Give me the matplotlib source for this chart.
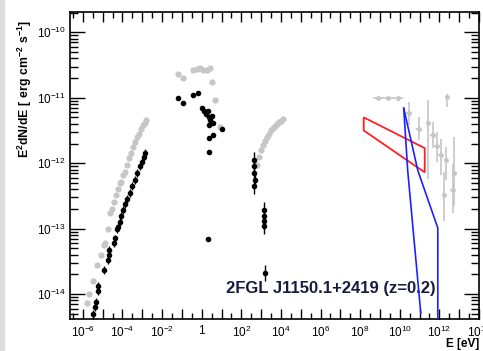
import numpy as np
import matplotlib
matplotlib.use("Agg")
import matplotlib.pyplot as plt
from matplotlib.patches import Polygon, Rectangle

plt.rcParams['font.family'] = ['Liberation Sans', 'DejaVu Sans']
plt.rcParams['mathtext.fontset'] = 'custom'
plt.rcParams['mathtext.rm'] = 'Liberation Sans'
plt.rcParams['mathtext.bf'] = 'Liberation Sans:bold'

# ---- archival data (grey), log10(E/eV), log10(E^2 dN/dE / erg cm^-2 s^-1)
grey_radio_logE = [-5.80, -5.70, -5.50, -5.30, -5.10, -4.95, -4.89, -4.75, -4.63, -4.55,
                   -4.45, -4.35, -4.25, -4.15, -4.05, -3.95, -3.87, -3.75, -3.65, -3.55,
                   -3.45, -3.35, -3.25, -3.15, -3.05, -2.95, -2.86, -2.81]
grey_radio_logF = [-14.14, -14.00, -13.80, -13.55, -13.40, -13.25, -13.22, -13.00, -12.76, -12.70,
                   -12.60, -12.48, -12.40, -12.30, -12.28, -12.18, -12.14, -12.02, -11.92, -11.85,
                   -11.75, -11.68, -11.60, -11.55, -11.47, -11.42, -11.38, -11.34]

grey_opt_logE = [-1.19, -0.94, -0.43, -0.25, -0.08, 0.07, 0.25, 0.43, 0.53, 0.68, 0.93]
grey_opt_logF = [-10.63, -10.70, -10.58, -10.56, -10.55, -10.58, -10.57, -10.55, -10.76, -11.04, -11.45]

grey_x_logE = [2.80, 2.90, 3.00, 3.10, 3.20, 3.30, 3.40, 3.50, 3.60, 3.70, 3.80, 3.90, 4.00, 4.10]
grey_x_logF = [-12.02, -11.90, -11.80, -11.72, -11.66, -11.60, -11.55, -11.50, -11.46, -11.43,
               -11.40, -11.37, -11.35, -11.33]

grey_lat_logE = [8.88, 9.39, 9.90]
grey_lat_logF = [-11.01, -11.01, -11.01]

grey_vhe_logE = [10.45, 10.96, 11.42, 11.67, 11.87, 12.07, 12.23, 12.33, 12.38, 12.68, 12.75]
grey_vhe_logF = [-11.24, -11.47, -11.39, -11.57, -11.73, -11.88, -12.49, -11.95, -10.99, -12.41, -12.15]
grey_vhe_errlo = [0.18, 0.18, 0.85, 0.20, 0.25, 0.30, 0.40, 0.30, 0.15, 0.35, 0.50]
grey_vhe_errhi = [0.18, 0.18, 0.35, 0.20, 0.20, 0.25, 0.35, 0.20, 0.05, 0.40, 0.55]

# ---- simultaneous data (black)
blk_radio_logE = [-5.48, -5.40, -5.33, -5.24, -5.22, -4.94, -4.72, -4.69, -4.66, -4.45,
                  -4.38, -4.30, -4.22, -4.15, -4.05, -3.95, -3.85, -3.75, -3.62, -3.50,
                  -3.38, -3.25, -3.12, -3.00, -2.90, -2.86]
blk_radio_logF = [-14.30, -14.20, -14.12, -13.95, -13.88, -13.63, -13.48, -13.40, -13.33, -13.22,
                  -13.15, -13.00, -12.98, -12.90, -12.80, -12.72, -12.62, -12.55, -12.45, -12.35,
                  -12.25, -12.15, -12.05, -11.98, -11.90, -11.85]

blk_opt_logE = [-1.19, -0.94, -0.43, -0.18, 0.00, 0.10, 0.20, 0.30, 0.35, 0.40, 0.50, 0.55,
                0.38, 1.04, 0.58, 0.38, 0.38, 0.33]
blk_opt_logF = [-11.01, -11.08, -10.96, -10.93, -11.15, -11.20, -11.25, -11.20, -11.30, -11.34,
                -11.28, -11.38, -11.42, -11.47, -11.57, -11.62, -11.83, -13.16]

blk_x_logE = [2.64, 2.66, 2.66, 2.67, 2.66, 3.16, 3.16, 3.16, 3.16, 3.21]
blk_x_logF = [-11.95, -12.05, -12.15, -12.25, -12.35, -12.72, -12.80, -12.88, -12.96, -13.68]

# ---- Fermi bow tie (red) and model curves (blue)
bowtie_logE = [8.18, 8.18, 11.26, 11.26]
bowtie_logF = [-11.30, -11.50, -12.14, -11.77]

model1_logE = [10.20, 10.40, 11.06]
model1_logF = [-11.16, -12.11, -14.29]
model2_logE = [10.20, 10.91, 11.92, 11.92]
model2_logF = [-11.16, -12.11, -12.99, -14.60]

xlim_log = (-6.65, 14.0)
ylim_log = (-14.38, -9.69)

W, H = 483, 351
fig = plt.figure(figsize=(W / 100, H / 100), dpi=100)
fig.patches.append(Rectangle((0, 0), 4 / W, 1, transform=fig.transFigure,
                             color='#dcdcdc', zorder=-1))
ax = fig.add_axes([70 / W, 1 - 319 / H, 409 / W, 307 / H])
ax.set_xscale('log')
ax.set_yscale('log')
ax.set_xlim(10 ** xlim_log[0], 10 ** xlim_log[1])
ax.set_ylim(10 ** ylim_log[0], 10 ** ylim_log[1])

p = lambda v: 10 ** np.asarray(v, dtype=float)
grey = '#c6c6c6'

ax.plot(p(grey_radio_logE), p(grey_radio_logF), 'o', color=grey, ms=4.5, mec='none', zorder=2)
ax.plot(p(grey_opt_logE), p(grey_opt_logF), 'o', color=grey, ms=4.5, mec='none', zorder=2)
ax.plot(p(grey_x_logE), p(grey_x_logF), 'o', color=grey, ms=4.5, mec='none', zorder=2)
ax.errorbar(p(grey_lat_logE), p(grey_lat_logF),
            xerr=[p(grey_lat_logE) - p(np.array(grey_lat_logE) - 0.25),
                  p(np.array(grey_lat_logE) + 0.25) - p(grey_lat_logE)],
            fmt='o', color=grey, ms=3.5, mec='none', elinewidth=1.2, capsize=0, zorder=2)
ve = np.array(grey_vhe_logE)
vf = np.array(grey_vhe_logF)
ax.errorbar(p(ve), p(vf),
            yerr=[p(vf) - p(vf - np.array(grey_vhe_errlo)), p(vf + np.array(grey_vhe_errhi)) - p(vf)],
            xerr=[p(ve) - p(ve - 0.12), p(ve + 0.12) - p(ve)],
            fmt='o', color=grey, ms=3.5, mec='none', elinewidth=1.2, capsize=0, zorder=2)

be = np.array(blk_radio_logE); bf = np.array(blk_radio_logF)
ax.errorbar(p(be), p(bf), yerr=[p(bf) - p(bf - 0.06), p(bf + 0.06) - p(bf)],
            fmt='o', color='black', ms=3, elinewidth=1, capsize=0, zorder=3)
oe = np.array(blk_opt_logE); of = np.array(blk_opt_logF)
ax.errorbar(p(oe), p(of), yerr=[p(of) - p(of - 0.03), p(of + 0.03) - p(of)],
            fmt='o', color='black', ms=3, elinewidth=1, capsize=0, zorder=3)
xe = np.array(blk_x_logE); xf = np.array(blk_x_logF)
ax.errorbar(p(xe), p(xf), yerr=[p(xf) - p(xf - 0.12), p(xf + 0.12) - p(xf)],
            fmt='o', color='black', ms=3, elinewidth=1, capsize=0, zorder=3)

ax.add_patch(Polygon(np.column_stack([p(bowtie_logE), p(bowtie_logF)]), closed=True,
                     fill=False, edgecolor='#ff2020', lw=1.3, zorder=4))
ax.plot(p(model1_logE), p(model1_logF), color='#2020ff', lw=1.2, zorder=4)
ax.plot(p(model2_logE), p(model2_logF), color='#2020ff', lw=1.2, zorder=4)

ax.text(10 ** 6.53, 10 ** -13.91, '2FGL J1150.1+2419 (z=0.2)', fontsize=12,
        fontweight='bold', ha='center', va='center', color='#1a1a40')

# axes decoration
for s in ax.spines.values():
    s.set_linewidth(1.2)
ax.set_xticks([10.0 ** k for k in range(-6, 15)])
ax.set_xticks([10.0 ** (k + 0.5) for k in range(-7, 14)], minor=True)
labels = []
for k in range(-6, 15):
    if k % 2:
        labels.append('')
    elif k == 0:
        labels.append('1')
    else:
        labels.append(r'$\mathregular{10^{%d}}$' % k)
ax.set_xticklabels(labels)
ax.set_yticks([10.0 ** k for k in range(-14, -9)])
ax.set_yticklabels([r'$\mathregular{10^{%d}}$' % k for k in range(-14, -9)])
ax.tick_params(which='both', direction='in', top=True, right=True, labelsize=8.5,
               colors='black', width=1)
ax.tick_params(axis='x', which='major', length=7, pad=4)
ax.tick_params(axis='x', which='minor', length=4)
ax.tick_params(axis='y', which='major', length=11, pad=3)
ax.tick_params(axis='y', which='minor', length=6)

fig.text(25 / W, 1 - 89 / H, r'$\mathbf{E^2dN/dE\ [\ erg\ cm^{-2}\ s^{-1}]}$',
         fontsize=8.8, rotation=90, ha='center', va='center')
fig.text(446 / W, 1 - 344.5 / H, 'E [eV]', fontsize=8.5, fontweight='bold',
         ha='left', va='center')

fig.savefig('out.png', dpi=100)
